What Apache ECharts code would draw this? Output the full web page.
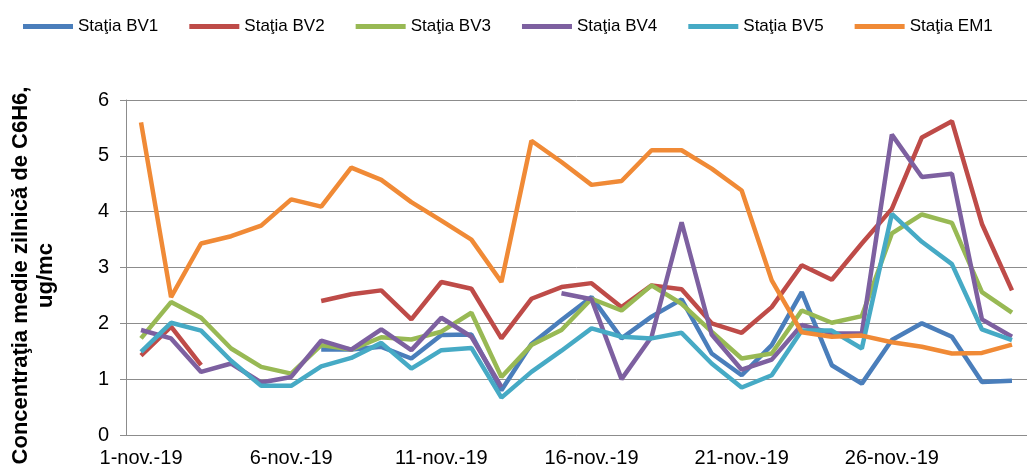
<!DOCTYPE html>
<html>
<head>
<meta charset="utf-8">
<script src="https://cdn.jsdelivr.net/npm/echarts@6/dist/echarts.min.js"></script>
<style>
  html, body { margin: 0; padding: 0; background: #fff; }
  #chart { width: 1027px; height: 473px; }
</style>
</head>
<body>
<div id="chart"></div>
<script>
// zilele lunii noiembrie 2019
const days = [
  "1-nov.-19", "2-nov.-19", "3-nov.-19", "4-nov.-19", "5-nov.-19",
  "6-nov.-19", "7-nov.-19", "8-nov.-19", "9-nov.-19", "10-nov.-19",
  "11-nov.-19", "12-nov.-19", "13-nov.-19", "14-nov.-19", "15-nov.-19",
  "16-nov.-19", "17-nov.-19", "18-nov.-19", "19-nov.-19", "20-nov.-19",
  "21-nov.-19", "22-nov.-19", "23-nov.-19", "24-nov.-19", "25-nov.-19",
  "26-nov.-19", "27-nov.-19", "28-nov.-19", "29-nov.-19", "30-nov.-19"
];

const bv1 = [null, null, null, null, null, null, 1.53, 1.53, 1.58, 1.37,
  1.79, 1.80, 0.80, 1.63, 2.06, 2.47, 1.73, 2.12, 2.43, 1.46,
  1.07, 1.61, 2.56, 1.25, 0.92, 1.70, 2.00, 1.76, 0.95, 0.97];
const bv2 = [1.42, 1.94, 1.25, null, null, null, 2.40, 2.52, 2.59, 2.07,
  2.74, 2.62, 1.73, 2.44, 2.65, 2.72, 2.29, 2.68, 2.61, 2.00,
  1.83, 2.29, 3.04, 2.78, 3.43, 4.05, 5.33, 5.62, 3.78, 2.59];
const bv3 = [1.73, 2.38, 2.10, 1.55, 1.22, 1.10, 1.61, 1.53, 1.75, 1.71,
  1.85, 2.19, 1.04, 1.61, 1.88, 2.44, 2.23, 2.68, 2.35, 1.85,
  1.37, 1.46, 2.23, 2.01, 2.13, 3.61, 3.95, 3.80, 2.56, 2.19];
const bv4 = [1.88, 1.73, 1.13, 1.28, 0.94, 1.04, 1.69, 1.53, 1.89, 1.52,
  2.10, 1.76, 0.86, null, 2.54, 2.43, 1.00, 1.76, 3.81, 1.80,
  1.17, 1.35, 1.97, 1.82, 1.82, 5.38, 4.62, 4.68, 2.07, 1.76];
const bv5 = [1.49, 2.01, 1.87, 1.33, 0.88, 0.88, 1.23, 1.38, 1.65, 1.19,
  1.52, 1.56, 0.67, 1.13, 1.51, 1.91, 1.76, 1.73, 1.83, 1.28,
  0.85, 1.07, 1.87, 1.87, 1.55, 3.96, 3.46, 3.06, 1.89, 1.70];
const em1 = [5.60, 2.47, 3.43, 3.56, 3.75, 4.22, 4.09, 4.79, 4.57, 4.17,
  3.84, 3.50, 2.74, 5.27, 4.89, 4.48, 4.55, 5.10, 5.10, 4.77,
  4.38, 2.77, 1.84, 1.76, 1.78, 1.66, 1.58, 1.46, 1.47, 1.62];

const names = ["Staţia BV1", "Staţia BV2", "Staţia BV3", "Staţia BV4", "Staţia BV5", "Staţia EM1"];
const colors = ["#4a7ebb", "#be4b48", "#98b954", "#7d60a0", "#46aac5", "#f08a36"];
const values = [bv1, bv2, bv3, bv4, bv5, em1];

const font = "Liberation Sans, Arial, sans-serif";
const gridGray = "#8c8c8c";

const chart = echarts.init(document.getElementById("chart"));
chart.setOption({
  animation: false,
  color: colors,
  textStyle: { fontFamily: font },
  legend: {
    data: names,
    top: 13,
    left: 18,
    icon: "rect",
    itemWidth: 50,
    itemHeight: 5,
    itemGap: 31,
    textStyle: { fontSize: 17, color: "#000", fontFamily: font }
  },
  grid: { left: 123, right: -6, top: 100, bottom: 38 },
  xAxis: {
    type: "category",
    data: days,
    boundaryGap: true,
    axisLine: { lineStyle: { color: gridGray, width: 1 } },
    axisTick: { interval: 4, length: 6, lineStyle: { color: gridGray } },
    axisLabel: { interval: 4, fontSize: 20, color: "#000", margin: 13, fontFamily: font }
  },
  yAxis: {
    type: "value",
    min: 0,
    max: 6,
    interval: 1,
    name: "Concentraţia medie zilnică de C6H6,\nug/mc",
    nameLocation: "middle",
    nameRotate: 90,
    nameGap: 68,
    nameTextStyle: {
      fontSize: 22, fontWeight: "bold", color: "#000", lineHeight: 25,
      fontFamily: font, padding: [0, 16, 0, 0]
    },
    axisLine: { show: true, lineStyle: { color: gridGray } },
    axisTick: { show: true, length: 6, lineStyle: { color: gridGray } },
    axisLabel: { fontSize: 20, color: "#000", margin: 17, fontFamily: font },
    splitLine: { lineStyle: { color: gridGray, width: 1 } }
  },
  series: values.map((v, i) => ({
    name: names[i],
    type: "line",
    data: v,
    symbol: "none",
    connectNulls: false,
    lineStyle: { width: 4.5, color: colors[i] },
    itemStyle: { color: colors[i] }
  }))
});
</script>
</body>
</html>
